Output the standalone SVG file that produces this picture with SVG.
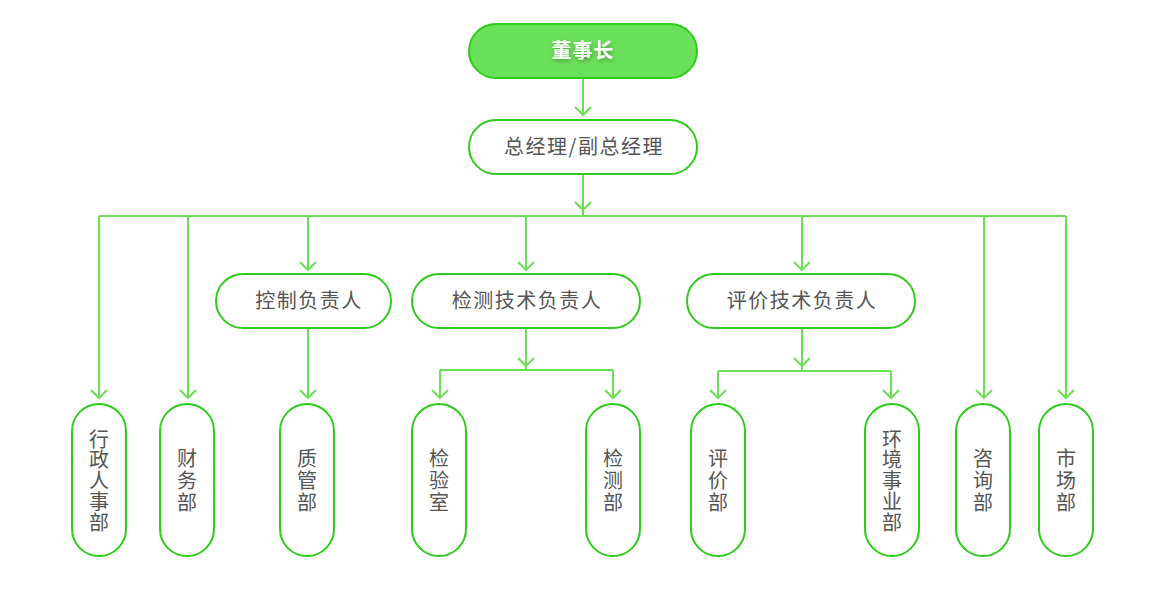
<svg xmlns="http://www.w3.org/2000/svg" width="1158" height="600" viewBox="0 0 1158 600">
<defs>
<style>
.node{fill:#ffffff;stroke:#2fcb1c;stroke-width:2}
.top{fill:#6be05a;stroke:#2fcb1c;stroke-width:2}
.t{font-family:"Noto Sans CJK SC","Noto Sans",sans-serif;font-size:20px;fill:#555555;text-anchor:middle;letter-spacing:1.5px}
.v{font-family:"Noto Sans CJK SC","Noto Sans",sans-serif;font-size:20px;fill:#555555;text-anchor:middle;writing-mode:vertical-rl;letter-spacing:2px}
.v5{letter-spacing:0.8px}
.tt{font-family:"Noto Sans CJK SC","Noto Sans",sans-serif;font-size:20px;font-weight:bold;fill:#ffffff;text-anchor:middle;letter-spacing:1px}
.c{fill:none;stroke:#6ade55;stroke-width:2}
</style>
<marker id="arr" viewBox="-10 -10 20 20" markerWidth="20" markerHeight="20" refX="0" refY="0" orient="auto" markerUnits="userSpaceOnUse">
<path d="M-8,-8 L0,0 L-8,8" fill="none" stroke="#6ade55" stroke-width="2"/>
</marker>
<filter id="sh" x="-20%" y="-50%" width="140%" height="200%">
<feDropShadow dx="1" dy="2" stdDeviation="2" flood-color="#000000" flood-opacity="0.3"/>
</filter>
</defs>
<g id="connectors">
<path class="c" d="M583,79 V115" marker-end="url(#arr)"/>
<path class="c" d="M583,175 V210" marker-end="url(#arr)"/>
<path class="c" d="M99,216 H1066"/>
<path class="c" d="M583,175 V216"/>
<path class="c" d="M99,216 V398" marker-end="url(#arr)"/>
<path class="c" d="M188,216 V398" marker-end="url(#arr)"/>
<path class="c" d="M308,216 V270" marker-end="url(#arr)"/>
<path class="c" d="M526,216 V270" marker-end="url(#arr)"/>
<path class="c" d="M802,216 V270" marker-end="url(#arr)"/>
<path class="c" d="M984,216 V398" marker-end="url(#arr)"/>
<path class="c" d="M1066,216 V398" marker-end="url(#arr)"/>
<path class="c" d="M308,329 V398" marker-end="url(#arr)"/>
<path class="c" d="M526,329 V366" marker-end="url(#arr)"/>
<path class="c" d="M526,366 V370 M440,370 H613"/>
<path class="c" d="M440,370 V398" marker-end="url(#arr)"/>
<path class="c" d="M613,370 V398" marker-end="url(#arr)"/>
<path class="c" d="M802,329 V366" marker-end="url(#arr)"/>
<path class="c" d="M802,366 V371 M718,371 H891"/>
<path class="c" d="M718,371 V398" marker-end="url(#arr)"/>
<path class="c" d="M891,371 V398" marker-end="url(#arr)"/>
</g>
<g id="n-chairman">
<rect class="top" x="469" y="24" width="228" height="54" rx="27"/>
<text class="tt" x="583" y="58" filter="url(#sh)">董事长</text>
</g>
<g id="n-gm">
<rect class="node" x="469" y="120" width="228" height="54" rx="27"/>
<text class="t" x="584" y="154">总经理/副总经理</text>
</g>
<g id="n-ctrl">
<rect class="node" x="216" y="274" width="175" height="54" rx="27"/>
<text class="t" x="309" y="308">控制负责人</text>
</g>
<g id="n-jc">
<rect class="node" x="412" y="274" width="228" height="54" rx="27"/>
<text class="t" x="527" y="308">检测技术负责人</text>
</g>
<g id="n-pj">
<rect class="node" x="687" y="274" width="228" height="54" rx="27"/>
<text class="t" x="802" y="308">评价技术负责人</text>
</g>
<g id="n-xz">
<rect class="node" x="72" y="404" width="54" height="152" rx="27"/>
<text class="v v5" x="99" y="481">行政人事部</text>
</g>
<g id="n-cw">
<rect class="node" x="160" y="404" width="54" height="152" rx="27"/>
<text class="v" x="187" y="481">财务部</text>
</g>
<g id="n-zg">
<rect class="node" x="280" y="404" width="54" height="152" rx="27"/>
<text class="v" x="307" y="481">质管部</text>
</g>
<g id="n-jys">
<rect class="node" x="412" y="404" width="54" height="152" rx="27"/>
<text class="v" x="439" y="481">检验室</text>
</g>
<g id="n-jcb">
<rect class="node" x="586" y="404" width="54" height="152" rx="27"/>
<text class="v" x="613" y="481">检测部</text>
</g>
<g id="n-pjb">
<rect class="node" x="691" y="404" width="54" height="152" rx="27"/>
<text class="v" x="718" y="481">评价部</text>
</g>
<g id="n-hj">
<rect class="node" x="865" y="404" width="54" height="152" rx="27"/>
<text class="v v5" x="892" y="481">环境事业部</text>
</g>
<g id="n-zx">
<rect class="node" x="956" y="404" width="54" height="152" rx="27"/>
<text class="v" x="983" y="481">咨询部</text>
</g>
<g id="n-sc">
<rect class="node" x="1039" y="404" width="54" height="152" rx="27"/>
<text class="v" x="1066" y="481">市场部</text>
</g>
</svg>
